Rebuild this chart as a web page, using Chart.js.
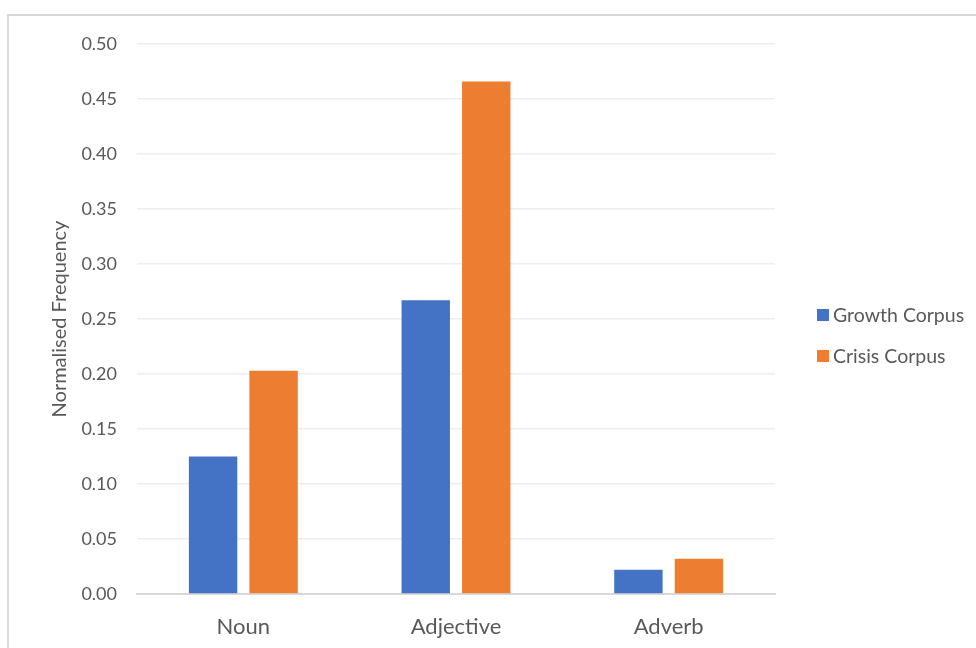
<!DOCTYPE html>
<html>
<head>
<meta charset="utf-8">
<script src="https://cdn.jsdelivr.net/npm/chart.js@4/dist/chart.umd.min.js"></script>
<style>
  html, body { margin: 0; padding: 0; background: #ffffff; }
  #wrap { position: relative; width: 976px; height: 648px; }
</style>
</head>
<body>
<div id="wrap"><canvas id="freqChart" width="976" height="648"></canvas></div>
<script>
// Word class frequencies in the two corpora
const categories = ['Noun', 'Adjective', 'Adverb'];
const growthCorpus = [0.125, 0.267, 0.022];
const crisisCorpus = [0.203, 0.466, 0.032];
const yTicks = [0, 0.05, 0.10, 0.15, 0.20, 0.25, 0.30, 0.35, 0.40, 0.45, 0.50];

const FONT = 'Lato, "Open Sans", sans-serif';
const TEXT = '#595959';

// light grey frame around the chart object
const framePlugin = {
    id: 'frame',
    beforeDraw(chart) {
        const c = chart.ctx;
        c.save();
        c.strokeStyle = '#d9d9d9';
        c.lineWidth = 2;
        c.strokeRect(8, 15, 2000, 2000);
        c.restore();
    }
};

// legend drawn to the right of the plot, one row per dataset
const sideLegend = {
    id: 'sideLegend',
    afterDraw(chart) {
        const c = chart.ctx;
        const x = chart.chartArea.right + 42;
        const yStart = 315;
        const rowGap = 41;
        c.save();
        c.font = '19.5px ' + FONT;
        c.textBaseline = 'middle';
        c.textAlign = 'left';
        chart.data.datasets.forEach((ds, i) => {
            const y = yStart + i * rowGap;
            c.fillStyle = ds.backgroundColor;
            c.fillRect(x, y - 6, 12, 12);
            c.fillStyle = TEXT;
            c.fillText(ds.label, x + 16, y + 1);
        });
        c.restore();
    }
};

const ctx = document.getElementById('freqChart').getContext('2d');
new Chart(ctx, {
    type: 'bar',
    data: {
        labels: categories,
        datasets: [
            {
                label: 'Growth Corpus',
                data: growthCorpus,
                backgroundColor: '#4472c4',
                categoryPercentage: 0.569,
                barPercentage: 0.8
            },
            {
                label: 'Crisis Corpus',
                data: crisisCorpus,
                backgroundColor: '#ed7d31',
                categoryPercentage: 0.569,
                barPercentage: 0.8
            }
        ]
    },
    options: {
        responsive: false,
        animation: false,
        layout: {
            padding: { left: 0, top: 44, right: 201, bottom: 0 }
        },
        scales: {
            x: {
                afterFit(scale) { scale.height = 54; },
                grid: { display: false, drawTicks: false },
                border: { display: true, color: '#d9d9d9', width: 2 },
                ticks: {
                    color: TEXT,
                    padding: 20,
                    font: { family: FONT, size: 22 }
                }
            },
            y: {
                min: 0,
                max: 0.5,
                afterFit(scale) { scale.width = 137; },
                afterBuildTicks(scale) {
                    scale.ticks = yTicks.map(v => ({ value: v }));
                },
                grid: { color: '#eeeeee', lineWidth: 1.5, drawTicks: false },
                border: { display: false },
                ticks: {
                    color: TEXT,
                    padding: 20,
                    font: { family: FONT, size: 18 },
                    callback: v => v.toFixed(2)
                },
                title: {
                    display: true,
                    text: 'Normalised Frequency',
                    color: TEXT,
                    padding: { top: 48, bottom: 0 },
                    font: { family: FONT, size: 20 }
                }
            }
        },
        plugins: {
            legend: { display: false },
            tooltip: { enabled: false }
        }
    },
    plugins: [framePlugin, sideLegend]
});
</script>
</body>
</html>
